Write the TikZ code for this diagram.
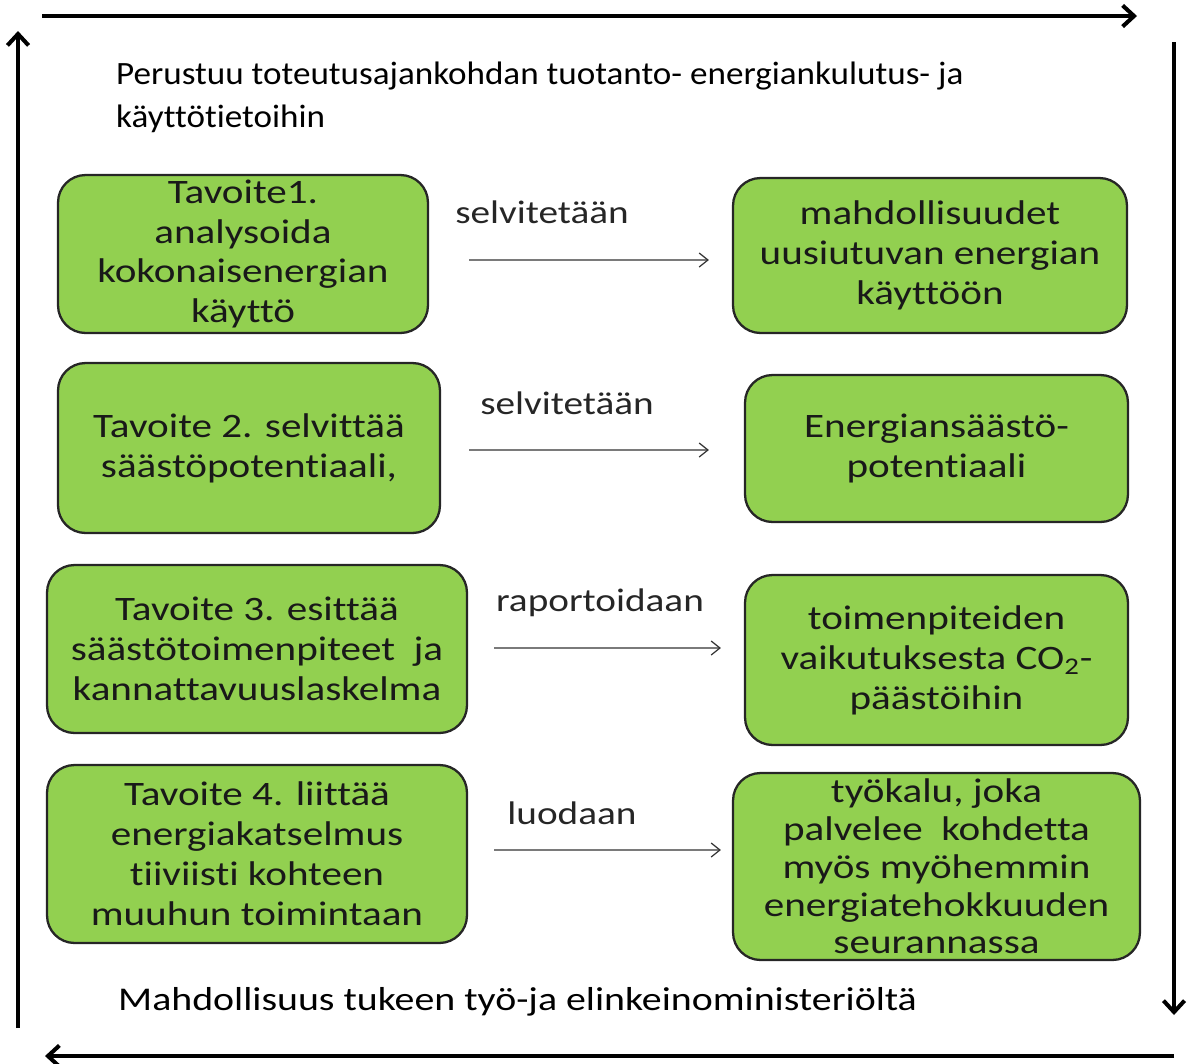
\documentclass[tikz,border=0pt]{standalone}
\usepackage{fontspec}
\setmainfont{Carlito}[FakeStretch=1.2, Ligatures=NoCommon]
\newfontfamily\headfont{Carlito}[FakeStretch=1.08, Ligatures=NoCommon]
\usetikzlibrary{arrows.meta}

\definecolor{goalgreen}{HTML}{92D050}

\tikzset{
	goal/.style={draw=black!85, line width=1.3pt, fill=goalgreen, rounded corners=0.55cm,
		align=center, inner sep=0pt, text=black!90, font=\fontsize{19.5}{22.7}\selectfont},
	frame/.style={line width=2.3pt, -{Straight Barb[length=6.5pt, width=12pt]}},
	link/.style={line width=0.7pt, black!80, -{Straight Barb[length=5pt, width=8pt]}},
	verb/.style={text=black!85, font=\fontsize{18.6}{22}\selectfont}
}

\begin{document}
\begin{tikzpicture}[x=0.02cm, y=-0.02cm]
		\useasboundingbox (0, 0) rectangle (1187, 1063);

		\coordinate (tl) at (42, 16);
		\coordinate (tr) at (1137, 16);
		\coordinate (rt) at (1174, 42);
		\coordinate (rb) at (1174, 1015);
		\coordinate (br) at (1174, 1056);
		\coordinate (bl) at (45, 1056);
		\coordinate (lb) at (18, 1028);
		\coordinate (lt) at (18, 31);

		\draw [frame]	(tl) to (tr);
		\draw [frame]	(rt) to (rb);
		\draw [frame]	(br) to (bl);
		\draw [frame]	(lb) to (lt);

		\node [anchor=north west, align=left, font=\headfont\fontsize{18.5}{24.4}\selectfont] (base) at (110, 56)
			{Perustuu toteutusajankohdan tuotanto- energiankulutus- ja\\käyttötietoihin};
		\node [anchor=west, font=\fontsize{18.9}{22}\selectfont] (tuki) at (112, 1002)
			{Mahdollisuus tukeen työ-ja elinkeinoministeriöltä};

		\node [goal, minimum width=7.4cm, minimum height=3.16cm] (l1) at (243, 254)
			{Tavoite1.\\analysoida\\kokonaisenergian\\käyttö};
		\node [goal, minimum width=7.88cm, minimum height=3.1cm] (r1) at (930, 255.5)
			{mahdollisuudet\\uusiutuvan energian\\käyttöön};
		\node [goal, minimum width=7.64cm, minimum height=3.4cm] (l2) at (249, 448)
			{Tavoite 2. selvittää\\säästöpotentiaali,};
		\node [goal, minimum width=7.66cm, minimum height=2.94cm] (r2) at (936.5, 448.5)
			{Energiansäästö-\\potentiaali};
		\node [goal, minimum width=8.4cm, minimum height=3.36cm] (l3) at (257, 649)
			{Tavoite 3. esittää\\säästötoimenpiteet\ \ ja\\kannattavuuslaskelma};
		\node [goal, minimum width=7.66cm, minimum height=3.4cm] (r3) at (936.5, 660)
			{toimenpiteiden\\vaikutuksesta CO\textsubscript{2}-\\päästöihin};
		\node [goal, minimum width=8.4cm, minimum height=3.56cm] (l4) at (257, 854)
			{Tavoite 4. liittää\\energiakatselmus\\tiiviisti kohteen\\muuhun toimintaan};
		\node [goal, minimum width=8.14cm, minimum height=3.74cm, font=\fontsize{19.5}{21.5}\selectfont] (r4) at (936.5, 866.5)
			{työkalu, joka\\palvelee\ \ kohdetta\\myös myöhemmin\\energiatehokkuuden\\seurannassa};

		\node [verb] (v1) at (542, 212) {selvitetään};
		\node [verb] (v2) at (567, 403) {selvitetään};
		\node [verb] (v3) at (600, 603) {raportoidaan};
		\node [verb] (v4) at (572, 813) {luodaan};

		\draw [link, shorten <=0.8cm, shorten >=0.46cm]	([yshift=-0.12cm]l1.east) to ([yshift=-0.09cm]r1.west);
		\draw [link, shorten <=0.56cm, shorten >=0.7cm]	([yshift=-0.04cm]l2.east) to ([yshift=-0.03cm]r2.west);
		\draw [link, shorten <=0.52cm, shorten >=0.46cm]	([yshift=0.02cm]l3.east) to ([yshift=0.24cm]r3.west);
		\draw [link, shorten <=0.52cm, shorten >=0.22cm]	([yshift=0.08cm]l4.east) to ([yshift=0.33cm]r4.west);
	\end{tikzpicture}
\end{document}
